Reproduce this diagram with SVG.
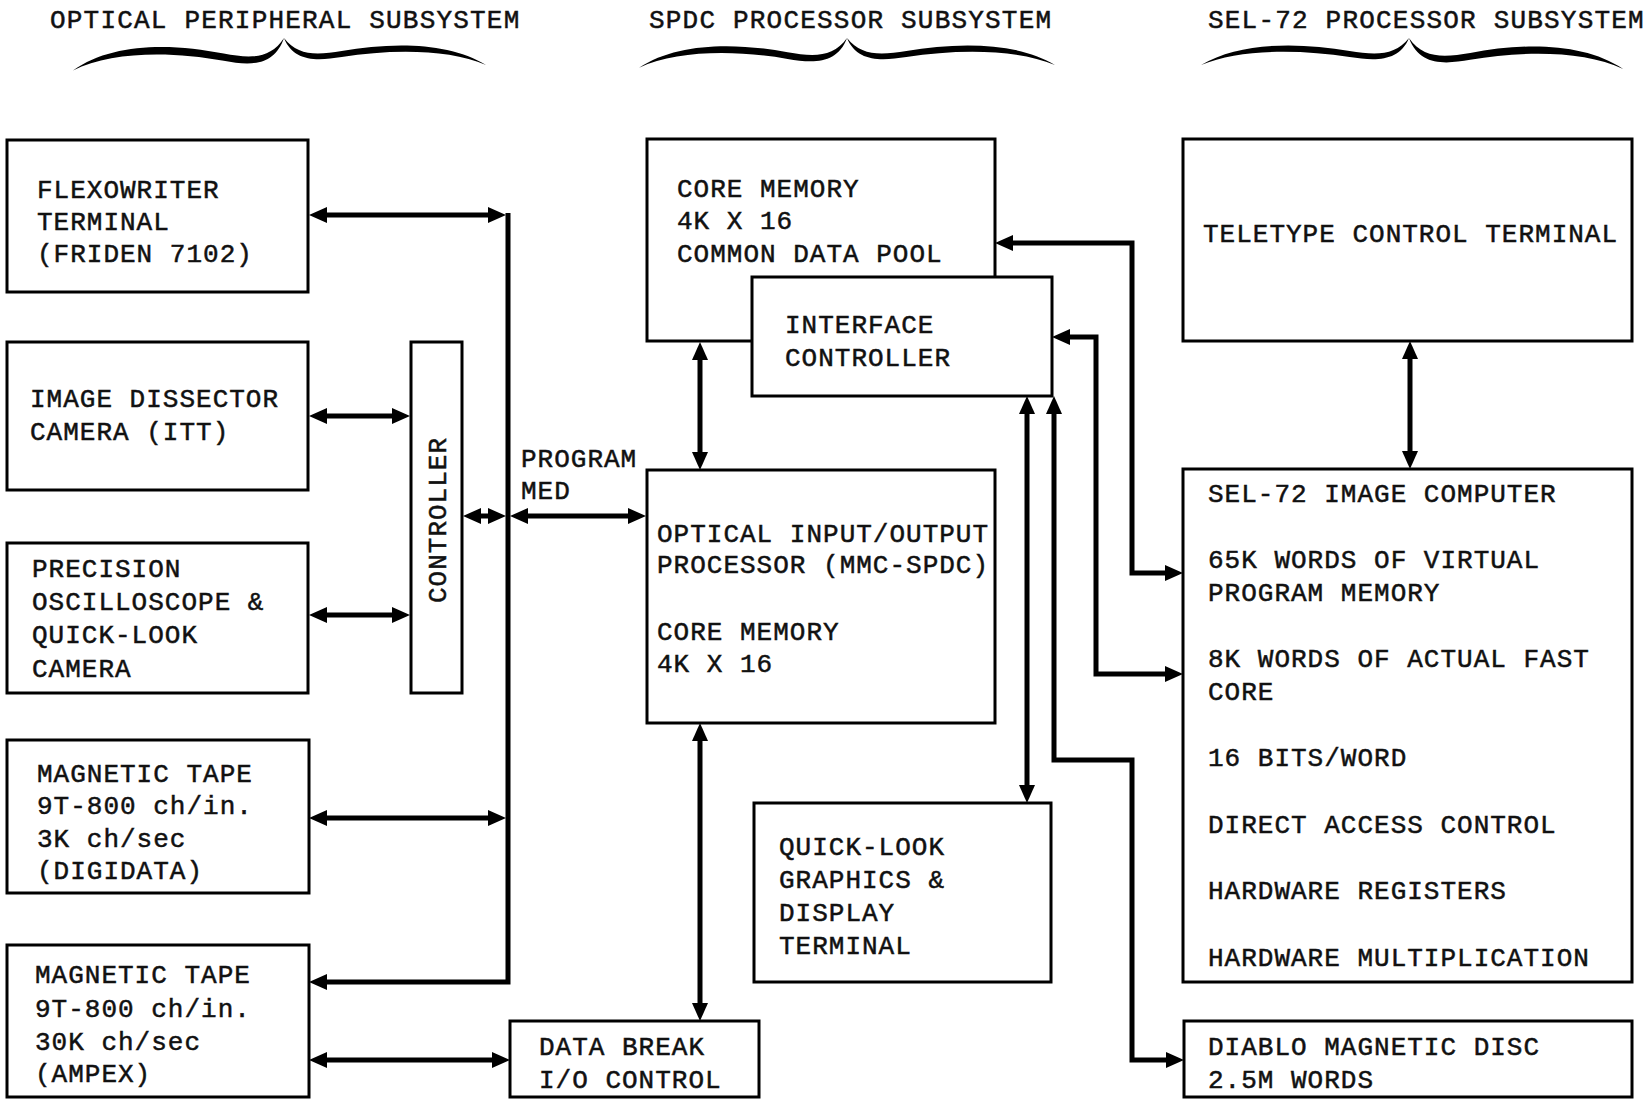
<svg xmlns="http://www.w3.org/2000/svg" xmlns:xlink="http://www.w3.org/1999/xlink" width="1648" height="1106" viewBox="0 0 1648 1106">
<style>
  .box { fill: #fff; stroke: #000; stroke-width: 3; }
  .t { font-family: "Liberation Mono", "DejaVu Sans Mono", monospace; font-size: 26px; letter-spacing: 1.0px; fill: #111; stroke: #111; stroke-width: 0.5px; }
  .h { font-family: "Liberation Mono", "DejaVu Sans Mono", monospace; font-size: 26px; letter-spacing: 1.2px; fill: #111; stroke: #111; stroke-width: 0.5px; }
  .c { fill: none; stroke: #000; stroke-width: 5; stroke-linejoin: miter; }
  .brace { fill: #000; }
</style>
<defs>
  <marker id="ah" viewBox="0 0 18 16" refX="6" refY="8" markerWidth="18" markerHeight="16" markerUnits="userSpaceOnUse" orient="auto-start-reverse">
    <path d="M0,0 L18,8 L0,16 z" fill="#000"/>
  </marker>
  <path id="braceL" d="M -210,27 C -172,4 -112,4 -60,13 C -34,17 -14,18 0,0 C -10,24 -34,23 -60,19 C -112,11 -172,11 -210,27 Z"/>
</defs>

<g id="headers">
  <text class="h" x="50" y="28">OPTICAL PERIPHERAL SUBSYSTEM</text>
  <text class="h" x="649" y="28">SPDC PROCESSOR SUBSYSTEM</text>
  <text class="h" x="1208" y="28">SEL-72 PROCESSOR SUBSYSTEM</text>
  <g class="brace">
    <use xlink:href="#braceL" href="#braceL" transform="translate(284,38) scale(1.005,1.2)"/>
    <use xlink:href="#braceL" href="#braceL" transform="translate(284,38) scale(-0.962,1)"/>
    <use xlink:href="#braceL" href="#braceL" transform="translate(847,38) scale(0.99,1.1)"/>
    <use xlink:href="#braceL" href="#braceL" transform="translate(847,38) scale(-0.99,1)"/>
    <use xlink:href="#braceL" href="#braceL" transform="translate(1409,38) scale(0.99,1)"/>
    <use xlink:href="#braceL" href="#braceL" transform="translate(1409,38) scale(-1.02,1.15)"/>
  </g>
</g>

<g id="connectors">
  <path class="c" d="M508,213 V982 H321" marker-end="url(#ah)"/>
  <path class="c" d="M321,215 H494" marker-start="url(#ah)" marker-end="url(#ah)"/>
  <path class="c" d="M321,416 H398" marker-start="url(#ah)" marker-end="url(#ah)"/>
  <path class="c" d="M321,615 H398" marker-start="url(#ah)" marker-end="url(#ah)"/>
  <path class="c" d="M475,516 H494" marker-start="url(#ah)" marker-end="url(#ah)"/>
  <path class="c" d="M522,516 H634" marker-start="url(#ah)" marker-end="url(#ah)"/>
  <path class="c" d="M321,818 H494" marker-start="url(#ah)" marker-end="url(#ah)"/>
  <path class="c" d="M321,1060 H498" marker-start="url(#ah)" marker-end="url(#ah)"/>
  <path class="c" d="M700,354 V458" marker-start="url(#ah)" marker-end="url(#ah)"/>
  <path class="c" d="M700,735 V1009" marker-start="url(#ah)" marker-end="url(#ah)"/>
  <path class="c" d="M1007,243 H1132 V573 H1171" marker-start="url(#ah)" marker-end="url(#ah)"/>
  <path class="c" d="M1064,337 H1096 V674 H1171" marker-start="url(#ah)" marker-end="url(#ah)"/>
  <path class="c" d="M1027,408 V791" marker-start="url(#ah)" marker-end="url(#ah)"/>
  <path class="c" d="M1054,408 V760 H1132 V1060 H1172" marker-start="url(#ah)" marker-end="url(#ah)"/>
  <path class="c" d="M1410,353 V457" marker-start="url(#ah)" marker-end="url(#ah)"/>
</g>

<g id="flexowriter">
  <rect class="box" x="7" y="140" width="301" height="152"/>
  <text class="t" x="37" y="198">FLEXOWRITER</text>
  <text class="t" x="37" y="230">TERMINAL</text>
  <text class="t" x="37" y="262">(FRIDEN 7102)</text>
</g>
<g id="image-dissector">
  <rect class="box" x="7" y="342" width="301" height="148"/>
  <text class="t" x="30" y="407">IMAGE DISSECTOR</text>
  <text class="t" x="30" y="440">CAMERA (ITT)</text>
</g>
<g id="precision-oscilloscope">
  <rect class="box" x="7" y="543" width="301" height="150"/>
  <text class="t" x="32" y="577">PRECISION</text>
  <text class="t" x="32" y="610">OSCILLOSCOPE &amp;</text>
  <text class="t" x="32" y="643">QUICK-LOOK</text>
  <text class="t" x="32" y="677">CAMERA</text>
</g>
<g id="tape-digidata">
  <rect class="box" x="7" y="740" width="302" height="153"/>
  <text class="t" x="37" y="782">MAGNETIC TAPE</text>
  <text class="t" x="37" y="814">9T-800 ch/in.</text>
  <text class="t" x="37" y="847">3K ch/sec</text>
  <text class="t" x="37" y="879">(DIGIDATA)</text>
</g>
<g id="tape-ampex">
  <rect class="box" x="7" y="945" width="302" height="152"/>
  <text class="t" x="35" y="983">MAGNETIC TAPE</text>
  <text class="t" x="35" y="1017">9T-800 ch/in.</text>
  <text class="t" x="35" y="1050">30K ch/sec</text>
  <text class="t" x="35" y="1082">(AMPEX)</text>
</g>
<g id="controller">
  <rect class="box" x="411" y="342" width="51" height="351"/>
  <text class="t" transform="translate(446,520) rotate(-90)" text-anchor="middle">CONTROLLER</text>
</g>
<g id="program-med">
  <text class="t" x="521" y="467">PROGRAM</text>
  <text class="t" x="521" y="499">MED</text>
</g>
<g id="core-memory">
  <rect class="box" x="647" y="139" width="348" height="202"/>
  <text class="t" x="677" y="197">CORE MEMORY</text>
  <text class="t" x="677" y="229">4K X 16</text>
  <text class="t" x="677" y="262">COMMON DATA POOL</text>
</g>
<g id="interface-controller">
  <rect class="box" x="752" y="277" width="300" height="119"/>
  <text class="t" x="785" y="333">INTERFACE</text>
  <text class="t" x="785" y="366">CONTROLLER</text>
</g>
<g id="optical-io-processor">
  <rect class="box" x="647" y="470" width="348" height="253"/>
  <text class="t" x="657" y="542">OPTICAL INPUT/OUTPUT</text>
  <text class="t" x="657" y="573">PROCESSOR (MMC-SPDC)</text>
  <text class="t" x="657" y="640">CORE MEMORY</text>
  <text class="t" x="657" y="672">4K X 16</text>
</g>
<g id="quick-look-graphics">
  <rect class="box" x="754" y="803" width="297" height="179"/>
  <text class="t" x="779" y="855">QUICK-LOOK</text>
  <text class="t" x="779" y="888">GRAPHICS &amp;</text>
  <text class="t" x="779" y="921">DISPLAY</text>
  <text class="t" x="779" y="954">TERMINAL</text>
</g>
<g id="data-break">
  <rect class="box" x="510" y="1021" width="249" height="76"/>
  <text class="t" x="539" y="1055">DATA BREAK</text>
  <text class="t" x="539" y="1088">I/O CONTROL</text>
</g>
<g id="teletype">
  <rect class="box" x="1183" y="139" width="449" height="202"/>
  <text class="t" x="1203" y="242">TELETYPE CONTROL TERMINAL</text>
</g>
<g id="sel72">
  <rect class="box" x="1183" y="469" width="449" height="513"/>
  <text class="t" x="1208" y="502">SEL-72 IMAGE COMPUTER</text>
  <text class="t" x="1208" y="568">65K WORDS OF VIRTUAL</text>
  <text class="t" x="1208" y="601">PROGRAM MEMORY</text>
  <text class="t" x="1208" y="667">8K WORDS OF ACTUAL FAST</text>
  <text class="t" x="1208" y="700">CORE</text>
  <text class="t" x="1208" y="766">16 BITS/WORD</text>
  <text class="t" x="1208" y="833">DIRECT ACCESS CONTROL</text>
  <text class="t" x="1208" y="899">HARDWARE REGISTERS</text>
  <text class="t" x="1208" y="966">HARDWARE MULTIPLICATION</text>
</g>
<g id="diablo">
  <rect class="box" x="1184" y="1021" width="448" height="76"/>
  <text class="t" x="1208" y="1055">DIABLO MAGNETIC DISC</text>
  <text class="t" x="1208" y="1088">2.5M WORDS</text>
</g>
</svg>
